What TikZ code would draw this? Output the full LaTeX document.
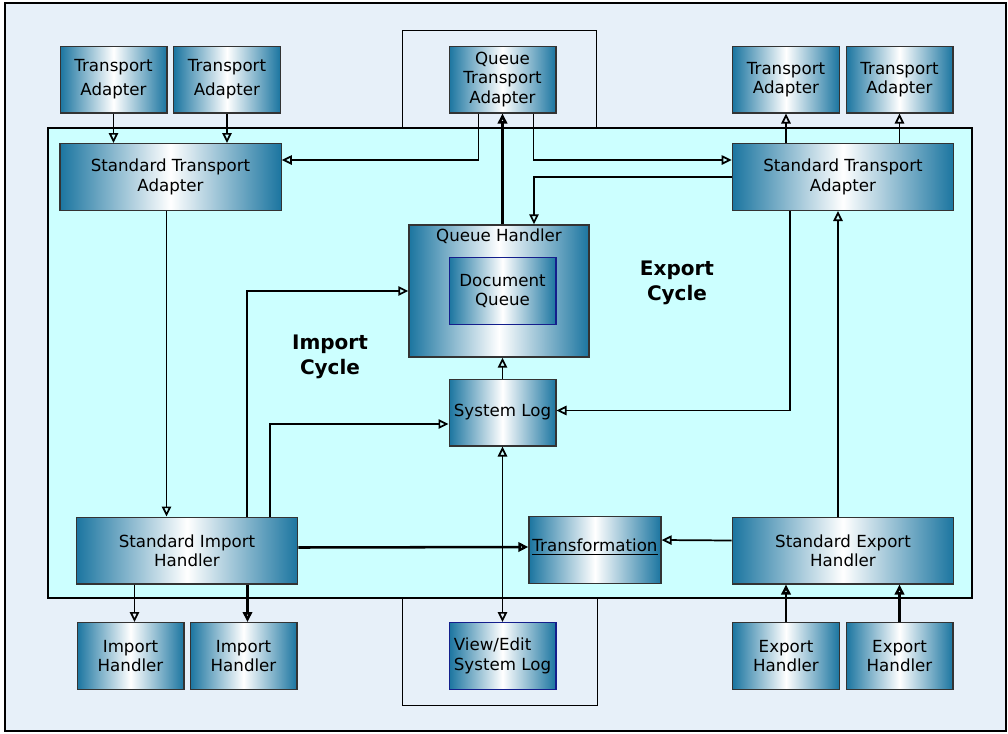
\documentclass[tikz,border=0pt]{standalone}
\usepackage{fontspec}
\setmainfont{DejaVu Sans}
\usetikzlibrary{arrows.meta,calc}

\definecolor{adapterblue}{RGB}{27,117,160}
\definecolor{cyclebg}{RGB}{204,255,255}
\definecolor{framebg}{RGB}{231,240,249}
\definecolor{queueblue}{RGB}{20,30,140}

\tikzset{
	box/.style={draw=black!80, line width=1pt, left color=adapterblue, right color=adapterblue, middle color=white,
		minimum width=80pt, minimum height=50pt, align=center, inner sep=2pt, font=\fontsize{12.5}{14.5}\selectfont},
	tabox/.style={box, font=\fontsize{12.5}{18}\selectfont},
	widebox/.style={box, minimum width=166pt},
	arr/.style={-{Triangle[open,length=7.5pt,width=7pt]}, line width=1.3pt},
	twoarr/.style={{Triangle[open,length=7.5pt,width=7pt]}-{Triangle[open,length=7.5pt,width=7pt]}, line width=1.3pt},
	cycletext/.style={font=\fontsize{15}{19}\bfseries\selectfont, align=center}
}

\begin{document}
\begin{tikzpicture}[x=0.75pt, y=-0.75pt]
	\useasboundingbox (0,0) rectangle (1008,733);
	\draw[fill=framebg, line width=0.9pt] (5,3) rectangle (1006,731);
	\draw[fill=cyclebg, line width=0.8pt] (48,128) rectangle (972,598);
	\draw[line width=0.6pt] (402,128) -- (402,30) -- (596,30) -- (596,128);
	\draw[line width=0.6pt] (402,598) -- (402,705) -- (597,705) -- (597,598);

	% top row
	\node[tabox] (ta1) at (113.5,79.5) {Transport\\Adapter};
	\node[tabox] (ta2) at (227,79.5) {Transport\\Adapter};
	\node[box] (qta) at (502.5,79.5) {Queue\\Transport\\Adapter};
	\node[box] (ta3) at (786,79.5) {Transport\\Adapter};
	\node[box] (ta4) at (899.5,79.5) {Transport\\Adapter};

	\node[widebox] (stal) at (170.5,177) {Standard Transport\\Adapter};
	\node[widebox] (star) at (843,177) {Standard Transport\\Adapter};

	% middle
	\node[box, minimum width=135pt, minimum height=99pt,
		label={[anchor=north, inner sep=3pt, font=\fontsize{12.5}{14}\selectfont]north:Queue Handler}] (qh) at (499,291) {};
	\node[box, draw=queueblue] (dq) at (502.5,291) {Document\\Queue};
	\node[box] (sl) at (502.5,412.5) {System Log};

	\node[cycletext] (ic) at (330,357) {Import\\Cycle};
	\node[cycletext] (ec) at (677,283) {Export\\Cycle};

	% bottom rows
	\node[widebox] (sih) at (187,550.5) {Standard Import\\Handler};
	\node[box, minimum width=99pt] (tr) at (595,550) {\raisebox{7pt}{\underline{Transformation}}};
	\node[widebox] (seh) at (843,550.5) {Standard Export\\Handler};

	\node[box] (ih1) at (130.5,656) {Import\\Handler};
	\node[box] (ih2) at (243.5,656) {Import\\Handler};
	\node[box, draw=queueblue, align=left] (ve) at (502.5,656) {View/Edit\\System Log};
	\node[box] (eh1) at (786,656) {Export\\Handler};
	\node[box] (eh2) at (899.5,656) {Export\\Handler};

	% connectors
	\draw[arr] (ta1.south) -- (ta1.south |- stal.north);
	\draw[arr] (ta2.south) -- (ta2.south |- stal.north);
	\draw[arr] (ta3.south |- star.north) -- (ta3.south);
	\draw[arr] (ta4.south |- star.north) -- (ta4.south);

	\draw[arr] ($(qta.south)+(-24,0)$) |- ($(stal.east)+(0,-17)$);
	\draw[arr] ($(qta.south)+(31,0)$) |- ($(star.west)+(0,-17)$);
	\draw[arr, line width=1.9pt] (qta.south |- qh.north) -- (qta.south);
	\draw[arr] (star.west) -| ($(qh.north)+(35,0)$);

	\draw[arr] ($(stal.south)+(-4,0)$) -- ($(stal.south |- sih.north)+(-4,0)$);
	\draw[arr] ($(sih.north)+(60,0)$) |- (qh.west);
	\draw[arr] ($(sih.north)+(83,0)$) |- ($(sl.west)+(0,11.5)$);
	\draw[arr, line width=1.9pt] ($(sih.east)+(0,-3)$) -- ($(tr.west)+(0,-3)$);
	\draw[arr] ($(seh.west)+(0,-10)$) -- ($(tr.east)+(0,-10)$);
	\draw[arr] ($(seh.north)+(-5,0)$) -- ($(star.south)+(-5,0)$);
	\draw[arr] ($(star.south)+(-53,0)$) |- ($(sl.east)+(0,-2)$);

	\draw[arr] (sl.north) -- (sl.north |- qh.south);
	\draw[twoarr] (sl.south) -- (ve.north);

	\draw[arr] ($(ih1.north |- sih.south)+(4,0)$) -- ($(ih1.north)+(4,0)$);
	\draw[arr, line width=1.9pt] ($(ih2.north |- sih.south)+(4,0)$) -- ($(ih2.north)+(4,0)$);
	\draw[arr, line width=1.9pt] (eh1.north) -- (eh1.north |- seh.south);
	\draw[arr, line width=1.9pt] (eh2.north) -- (eh2.north |- seh.south);
\end{tikzpicture}
\end{document}
